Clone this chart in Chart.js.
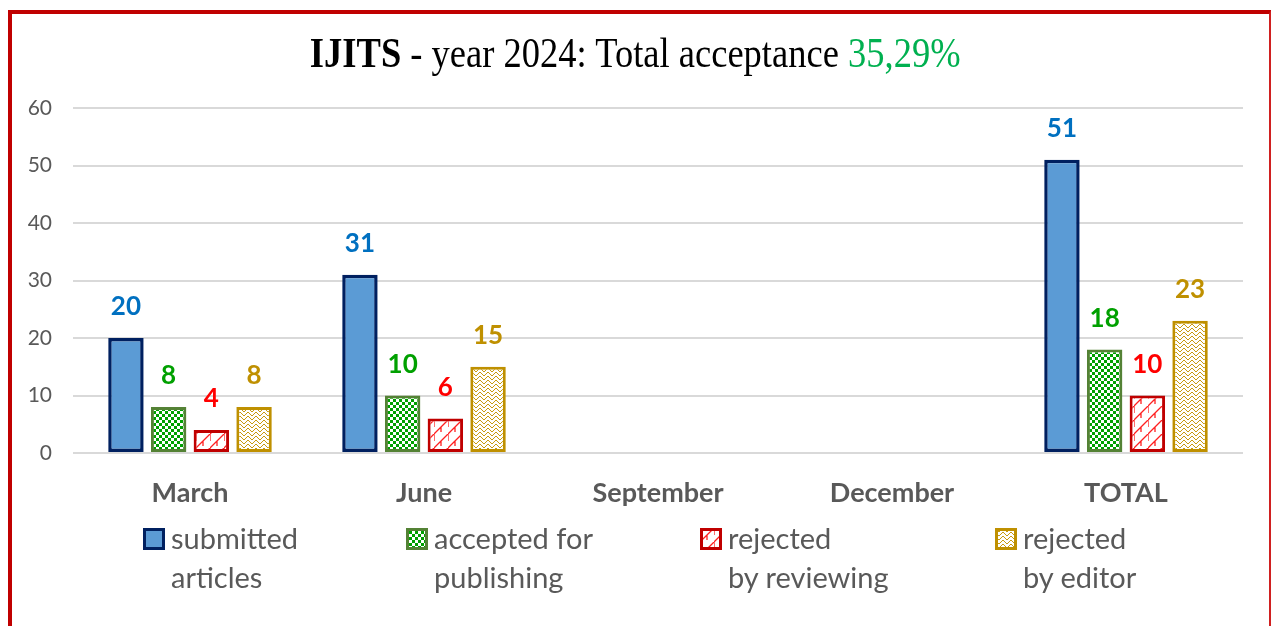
<!DOCTYPE html>
<html>
<head>
<meta charset="utf-8">
<script src="https://cdn.jsdelivr.net/npm/chart.js@4.4.1/dist/chart.umd.min.js"></script>
<style>
  html, body { margin: 0; padding: 0; background: #fff; }
  #wrap { position: relative; width: 1271px; height: 626px; overflow: hidden; }
  #frame {
    position: absolute; left: 8px; top: 10px; width: 1263px; height: 640px;
    border-left: 4px solid #C00000; border-top: 4px solid #C00000; border-right: 2px solid #D02020;
    box-sizing: border-box;
  }
  #chart { position: absolute; left: 0; top: 0; }
  #title {
    position: absolute; top: 28px; left: 0; width: 1271px; text-align: center;
    font-family: "Liberation Serif", "DejaVu Serif", serif; font-size: 43px; color: #000;
    white-space: nowrap;
  }
  #title span.inner { display: inline-block; transform-origin: center; }
  .legend-item { position: absolute; font-family: Lato, "Noto Sans", sans-serif; font-size: 29px;
    line-height: 39px; color: #595959; }
</style>
</head>
<body>
<div id="wrap">
  <canvas id="chart" width="1271" height="626"></canvas>
  <div id="frame"></div>
  <div id="title"><span class="inner"><b>IJITS</b> - year 2024: Total acceptance <span style="color:#00B050">35,29%</span></span></div>
  <div id="legend"></div>
</div>
<script>
// --- data ---
const categories = ['March', 'June', 'September', 'December', 'TOTAL'];
const submittedArticles = [20, 31, null, null, 51];
const acceptedForPublishing = [8, 10, null, null, 18];
const rejectedByReviewing = [4, 6, null, null, 10];
const rejectedByEditor = [8, 15, null, null, 23];
const seriesLabels = [['submitted', 'articles'], ['accepted for', 'publishing'], ['rejected', 'by reviewing'], ['rejected', 'by editor']];
const yMin = 0, yMax = 60, yStep = 10;

// --- patterns ---
function makeTile(w, h, draw) {
    const c = document.createElement('canvas');
    c.width = w; c.height = h;
    const g = c.getContext('2d');
    g.fillStyle = '#ffffff';
    g.fillRect(0, 0, w, h);
    draw(g);
    return c;
}

const checkerTile = makeTile(6, 6, g => {
    g.fillStyle = '#00A000';
    g.fillRect(0, 0, 3, 3);
    g.fillRect(3, 3, 3, 3);
});

// diagonal lines with short ticks, like the reference hatch
const shingleTile = makeTile(14, 14, g => {
    g.strokeStyle = '#FF2020';
    g.lineWidth = 1.3;
    g.beginPath();
    g.moveTo(0, 14); g.lineTo(14, 0);
    g.moveTo(7, 7); g.lineTo(7, 12);
    g.moveTo(0, 7); g.lineTo(0, 0);
    g.stroke();
});

const weaveTile = makeTile(8, 8, g => {
    g.fillStyle = '#C89A10';
    for (let i = 0; i < 8; i++) {
        const j = i < 4 ? i : 7 - i;
        g.fillRect(i, j, 1, 1);
        g.fillRect(i, (j + 4) % 8, 1, 1);
    }
});

const ctx = document.getElementById('chart').getContext('2d');
const checker = ctx.createPattern(checkerTile, 'repeat');
const shingle = ctx.createPattern(shingleTile, 'repeat');
const weave = ctx.createPattern(weaveTile, 'repeat');

const styles = [
    { fill: '#5B9BD5', border: '#002060', label: '#0070C0', tile: null },
    { fill: checker, border: '#548235', label: '#00A000', tile: checkerTile },
    { fill: shingle, border: '#C00000', label: '#FF0000', tile: shingleTile },
    { fill: weave, border: '#BF9000', label: '#BF9000', tile: weaveTile }
];

const seriesData = [submittedArticles, acceptedForPublishing, rejectedByReviewing, rejectedByEditor];

// value labels above bars
const valueLabels = {
    id: 'valueLabels',
    afterDatasetsDraw(chart) {
        const c = chart.ctx;
        c.save();
        c.font = 'bold 26px Lato, "Noto Sans", sans-serif';
        c.textAlign = 'center';
        c.textBaseline = 'middle';
        chart.data.datasets.forEach((ds, i) => {
            const meta = chart.getDatasetMeta(i);
            c.fillStyle = styles[i].label;
            meta.data.forEach((bar, j) => {
                const v = ds.data[j];
                if (v === null || v === undefined) return;
                c.fillText(String(v), bar.x, bar.y - 31);
            });
        });
        c.restore();
    }
};

const chart = new Chart(ctx, {
    type: 'bar',
    data: {
        labels: categories,
        datasets: seriesData.map((d, i) => ({
            label: seriesLabels[i].join(' '),
            data: d,
            backgroundColor: styles[i].fill,
            borderColor: styles[i].border,
            borderWidth: i === 0 ? 3.5 : 3,
            borderSkipped: false,
            categoryPercentage: 0.73,
            barPercentage: 0.83
        }))
    },
    options: {
        responsive: false,
        animation: false,
        layout: { padding: { top: 108, right: 28, left: 0, bottom: 0 } },
        plugins: {
            legend: { display: false },
            title: { display: false },
            tooltip: { enabled: false }
        },
        scales: {
            x: {
                grid: { display: false },
                border: { display: false },
                ticks: {
                    color: '#595959',
                    font: { family: 'Lato, "Noto Sans", sans-serif', size: 27, weight: 'bold' },
                    padding: 16
                },
                afterFit: s => { s.height = 173; }
            },
            y: {
                min: yMin,
                max: yMax,
                grid: { color: '#D9D9D9', lineWidth: 2, drawTicks: false },
                border: { display: false },
                ticks: {
                    stepSize: yStep,
                    color: '#595959',
                    font: { family: 'Lato, "Noto Sans", sans-serif', size: 21 },
                    padding: 21
                },
                afterFit: s => { s.width = 73; }
            }
        }
    },
    plugins: [valueLabels]
});

// --- title fit to the reference width ---
const inner = document.querySelector('#title .inner');
inner.style.transform = 'scaleX(' + (650 / inner.offsetWidth).toFixed(3) + ')';

// --- legend ---
const legendPos = [
    { sx: 143, tx: 171 },
    { sx: 406, tx: 434 },
    { sx: 700, tx: 728 },
    { sx: 995, tx: 1023 }
];
const legend = document.getElementById('legend');
seriesLabels.forEach((lines, i) => {
    const item = document.createElement('div');
    item.className = 'legend-item';
    item.style.left = legendPos[i].tx + 'px';
    item.style.top = '518px';
    item.innerHTML = lines.join('<br>');
    legend.appendChild(item);

    const sw = document.createElement('canvas');
    sw.width = 22; sw.height = 22;
    sw.style.position = 'absolute';
    sw.style.left = legendPos[i].sx + 'px';
    sw.style.top = '528px';
    const g = sw.getContext('2d');
    g.fillStyle = styles[i].tile ? g.createPattern(styles[i].tile, 'repeat') : styles[i].fill;
    g.fillRect(0, 0, 22, 22);
    g.strokeStyle = styles[i].border;
    g.lineWidth = 3;
    g.strokeRect(1.5, 1.5, 19, 19);
    legend.appendChild(sw);
});
</script>
</body>
</html>
